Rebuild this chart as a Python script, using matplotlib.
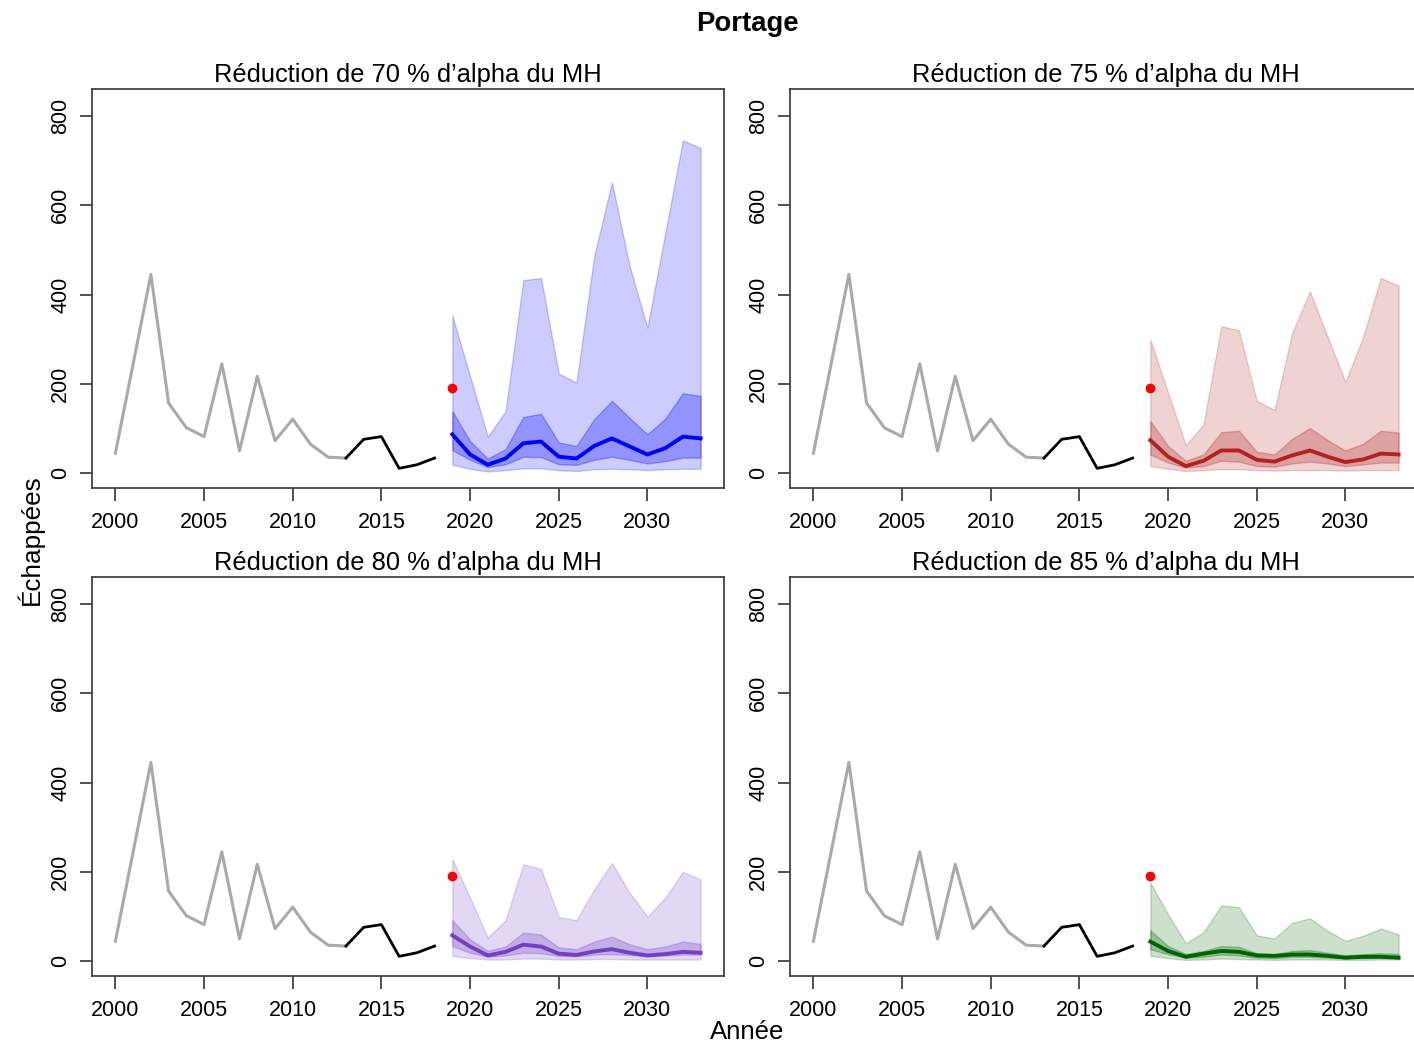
import numpy as np
import matplotlib
matplotlib.use("Agg")
import matplotlib.pyplot as plt

plt.rcParams['font.family'] = ['Liberation Sans', 'DejaVu Sans']

# historical escapements
hist_years = list(range(2000, 2014))
hist_vals = [45, 245, 445, 157, 102, 82, 245, 50, 217, 73, 121, 65, 36, 34]
recent_years = list(range(2013, 2019))
recent_vals = [34, 76, 82, 11, 19, 34]
obs_year = 2019
obs_val = 190

proj_years = list(range(2019, 2034))

titles = ["Réduction de 70 % d’alpha du MH",
          "Réduction de 75 % d’alpha du MH",
          "Réduction de 80 % d’alpha du MH",
          "Réduction de 85 % d’alpha du MH"]

# 70 %
p70_lo95 = [19, 10, 4, 7, 11, 11, 7, 5, 9, 10, 9, 7, 9, 10, 10]
p70_lo50 = [52, 30, 14, 20, 37, 36, 20, 19, 30, 37, 30, 22, 27, 35, 35]
p70_med = [87, 42, 19, 33, 67, 71, 37, 33, 61, 78, 60, 42, 56, 82, 78]
p70_hi50 = [139, 72, 33, 54, 126, 133, 69, 61, 121, 162, 124, 87, 122, 179, 173]
p70_hi95 = [353, 217, 82, 139, 432, 437, 223, 203, 486, 651, 463, 326, 536, 745, 728]

# 75 %
p75_lo95 = [16, 10, 5, 7, 9, 9, 7, 6, 7, 7, 7, 6, 7, 7, 7]
p75_lo50 = [42, 24, 13, 16, 28, 26, 16, 15, 22, 26, 22, 16, 20, 24, 24]
p75_med = [74, 37, 16, 28, 51, 51, 30, 26, 40, 51, 37, 25, 31, 44, 42]
p75_hi50 = [117, 61, 28, 42, 92, 95, 48, 42, 77, 101, 74, 51, 66, 95, 91]
p75_hi95 = [299, 180, 63, 110, 329, 320, 162, 142, 314, 407, 305, 204, 305, 437, 420]

# 80 %
p80_lo95 = [12, 7, 4, 4, 6, 6, 4, 4, 5, 5, 4, 4, 4, 4, 4]
p80_lo50 = [34, 19, 10, 13, 19, 18, 12, 11, 15, 16, 14, 11, 13, 15, 15]
p80_med = [58, 33, 13, 21, 37, 33, 17, 14, 22, 27, 19, 13, 16, 21, 19]
p80_hi50 = [92, 49, 23, 33, 64, 60, 31, 27, 44, 55, 38, 27, 33, 44, 39]
p80_hi95 = [229, 142, 53, 92, 217, 207, 99, 92, 161, 220, 153, 100, 142, 200, 183]

# 85 %
p85_lo95 = [12, 7, 3, 4, 6, 5, 4, 3, 4, 4, 4, 3, 3, 4, 4]
p85_lo50 = [27, 16, 8, 10, 15, 13, 8, 7, 10, 10, 8, 7, 7, 8, 7]
p85_med = [44, 23, 10, 17, 23, 21, 13, 12, 15, 15, 12, 8, 10, 10, 8]
p85_hi50 = [69, 34, 16, 23, 34, 32, 18, 16, 23, 25, 19, 13, 16, 18, 16]
p85_hi95 = [176, 105, 40, 65, 125, 121, 58, 51, 86, 96, 68, 46, 57, 73, 60]

scenarios = [
    (p70_lo95, p70_lo50, p70_med, p70_hi50, p70_hi95, "#0000ff"),
    (p75_lo95, p75_lo50, p75_med, p75_hi50, p75_hi95, "#b22222"),
    (p80_lo95, p80_lo50, p80_med, p80_hi50, p80_hi95, "#7340c4"),
    (p85_lo95, p85_lo50, p85_med, p85_hi50, p85_hi95, "#006400"),
]

fig = plt.figure(figsize=(14.14, 10.46), dpi=100)

positions = [
    (92, 89), (790, 89),
    (92, 577), (790, 577),
]
W, H = 1414.0, 1046.0
aw, ah = 632, 399

for i, (px, py) in enumerate(positions):
    ax = fig.add_axes([px / W, 1 - (py + ah) / H, aw / W, ah / H])
    lo95, lo50, med, hi50, hi95, col = scenarios[i]

    ax.plot(hist_years, hist_vals, color="#aaaaaa", lw=2.2)
    ax.plot(recent_years, recent_vals, color="black", lw=2.0)

    ax.fill_between(proj_years, lo95, hi95, facecolor=col, alpha=0.2,
                    edgecolor=col, linewidth=1.0)
    ax.fill_between(proj_years, lo50, hi50, facecolor=col, alpha=0.28,
                    edgecolor=col, linewidth=1.0)
    ax.plot(proj_years, med, color=col, lw=2.8)
    ax.plot([obs_year], [obs_val], "o", color="red", markersize=6)

    ax.set_xlim(1998.68, 2034.32)
    ax.set_ylim(-33, 860)
    ax.set_xticks([2000, 2005, 2010, 2015, 2020, 2025, 2030])
    ax.set_yticks([0, 200, 400, 600, 800])
    ax.tick_params(axis="both", direction="out", length=9, width=1.2,
                   colors="#333333", labelcolor="black", labelsize=15.5)
    ax.tick_params(axis="x", pad=8)
    ax.tick_params(axis="y", pad=6)
    for lab in ax.get_yticklabels():
        lab.set_rotation(90)
        lab.set_va("center")
    for sp in ax.spines.values():
        sp.set_color("#444444")
        sp.set_linewidth(1.3)
    ax.set_title(titles[i], fontsize=18.4, pad=5)

fig.text(747 / W, 1 - 24 / H, "Portage", ha="center", va="center",
         fontsize=19.8, fontweight="bold")
fig.text(747 / W, 1 - 1032 / H, "Année", ha="center", va="center", fontsize=18.5)
fig.text(30 / W, 1 - 540 / H, "Échappées", ha="center", va="center",
         rotation=90, fontsize=18.8)

fig.savefig("out.png", dpi=100)
